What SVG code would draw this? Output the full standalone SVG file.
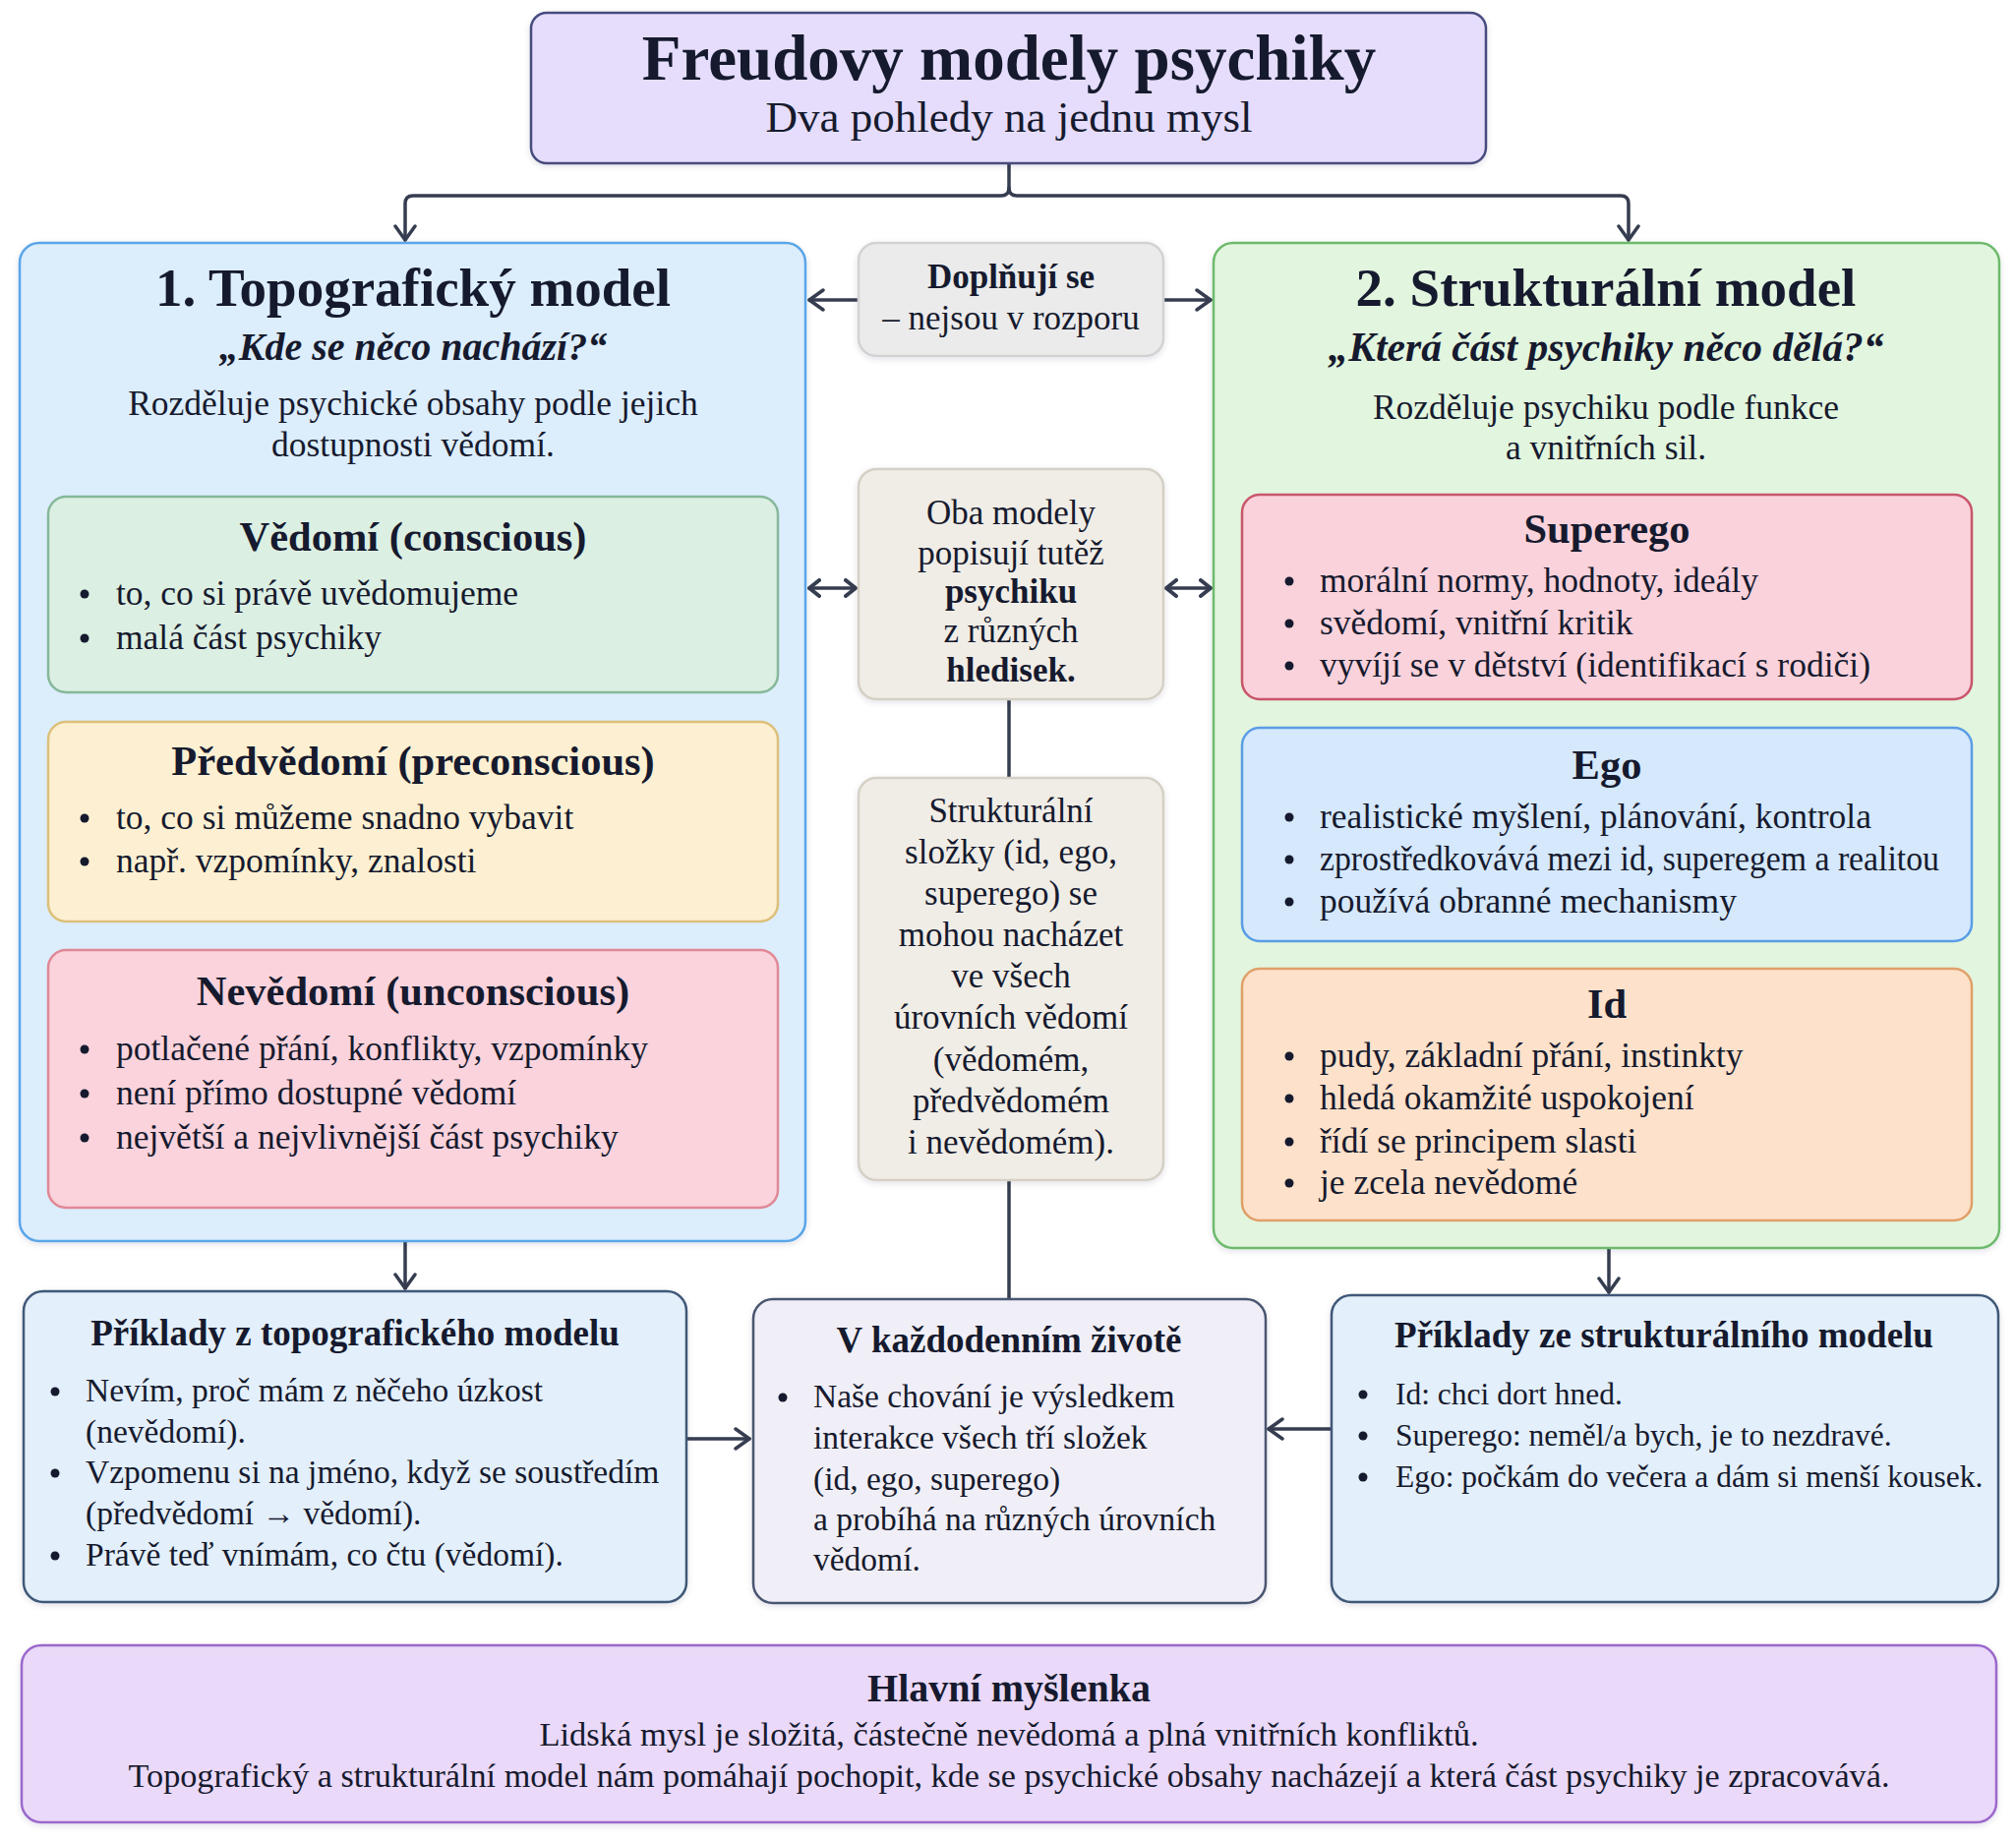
<svg xmlns="http://www.w3.org/2000/svg" width="2050" height="1873" viewBox="0 0 2050 1873">
<style>
text{font-family:"Liberation Serif","DejaVu Serif",serif;fill:#161a2e}
.c{text-anchor:middle}
.b{font-weight:bold}
.bi{font-weight:bold;font-style:italic}
.t1{font-size:65px}
.t2{font-size:45px}
.pt{font-size:55px}
.q{font-size:40px}
.q2{font-size:41.5px}
.d{font-size:35.5px}
.h{font-size:42.5px}
.li{font-size:35.5px}
.cc{font-size:35px}
.bt{font-size:37px}
.bl{font-size:33.5px}
.br{font-size:31.5px}
.box{stroke-width:2.5}
.con{fill:none;stroke:#363d50;stroke-width:3.5;stroke-linecap:round;stroke-linejoin:round}
.dot{fill:#161a2e}
</style>
<defs>
<filter id="sh" x="-5%" y="-5%" width="110%" height="115%">
<feDropShadow dx="0" dy="2" stdDeviation="3" flood-color="#1a2040" flood-opacity="0.12"/>
</filter>
<marker id="ah" markerUnits="userSpaceOnUse" markerWidth="18" markerHeight="24" viewBox="0 0 18 24" refX="16" refY="12" orient="auto-start-reverse">
<path d="M2,2 L16,12 L2,22" fill="none" stroke="#363d50" stroke-width="3.5" stroke-linecap="round" stroke-linejoin="round"/>
</marker>
<marker id="as" markerUnits="userSpaceOnUse" markerWidth="14" markerHeight="20" viewBox="0 0 14 20" refX="12" refY="10" orient="auto-start-reverse">
<path d="M2,2 L12,10 L2,18" fill="none" stroke="#363d50" stroke-width="4" stroke-linecap="round" stroke-linejoin="round"/>
</marker>
</defs>
<rect width="2050" height="1873" fill="#ffffff"/>

<g id="connectors">
<path class="con" d="M1026,166 V191 Q1026,199 1018,199 H420 Q412,199 412,207 V244" marker-end="url(#ah)"/>
<path class="con" d="M1026,191 Q1026,199 1034,199 H1648 Q1656,199 1656,207 V244" marker-end="url(#ah)"/>
<path class="con" d="M873,305 H823" marker-end="url(#ah)"/>
<path class="con" d="M1183,305 H1231" marker-end="url(#ah)"/>
<path class="con" d="M823,598 H870" marker-start="url(#as)" marker-end="url(#as)"/>
<path class="con" d="M1186,598 H1231" marker-start="url(#as)" marker-end="url(#as)"/>
<path class="con" d="M1026,711 V791"/>
<path class="con" d="M1026,1200 V1321"/>
<path class="con" d="M412,1263 V1310" marker-end="url(#ah)"/>
<path class="con" d="M1636,1241 V1314" marker-end="url(#ah)"/>
<path class="con" d="M698,1463 H762" marker-end="url(#ah)"/>
<path class="con" d="M1354,1453 H1290" marker-end="url(#ah)"/>
</g>

<g id="title">
<rect class="box" x="540" y="13" width="971" height="153" rx="16" fill="#e5ddfb" stroke="#464c7e" filter="url(#sh)"/>
<text class="c b t1" x="1026" y="81">Freudovy modely psychiky</text>
<text class="c t2" x="1026" y="134">Dva pohledy na jednu mysl</text>
</g>

<g id="topographic">
<rect class="box" x="20" y="247" width="799" height="1015" rx="20" fill="#dcedfc" stroke="#5aa5e8" filter="url(#sh)"/>
<text class="c b pt" x="420" y="311">1. Topografický model</text>
<text class="c bi q" x="420" y="366">„Kde se něco nachází?“</text>
<text class="c d" x="420" y="422">Rozděluje psychické obsahy podle jejich</text>
<text class="c d" x="420" y="464">dostupnosti vědomí.</text>
</g>

<g id="vedomi">
<rect class="box" x="49" y="505" width="742" height="199" rx="18" fill="#dcefe3" stroke="#86b89a"/>
<text class="c b h" x="420" y="560">Vědomí (conscious)</text>
<circle class="dot" cx="86" cy="604" r="4.5"/>
<text class="li" x="118" y="615">to, co si právě uvědomujeme</text>
<circle class="dot" cx="86" cy="649" r="4.5"/>
<text class="li" x="118" y="660">malá část psychiky</text>
</g>

<g id="predvedomi">
<rect class="box" x="49" y="734" width="742" height="203" rx="18" fill="#fdf0d2" stroke="#dcc07a"/>
<text class="c b h" x="420" y="788">Předvědomí (preconscious)</text>
<circle class="dot" cx="86" cy="832" r="4.5"/>
<text class="li" x="118" y="843">to, co si můžeme snadno vybavit</text>
<circle class="dot" cx="86" cy="876" r="4.5"/>
<text class="li" x="118" y="887">např. vzpomínky, znalosti</text>
</g>

<g id="nevedomi">
<rect class="box" x="49" y="966" width="742" height="262" rx="18" fill="#fad3dc" stroke="#e08896"/>
<text class="c b h" x="420" y="1022">Nevědomí (unconscious)</text>
<circle class="dot" cx="86" cy="1067" r="4.5"/>
<text class="li" x="118" y="1078" font-size="37.5">potlačené přání, konflikty, vzpomínky</text>
<circle class="dot" cx="86" cy="1112" r="4.5"/>
<text class="li" x="118" y="1123" font-size="37.5">není přímo dostupné vědomí</text>
<circle class="dot" cx="86" cy="1157" r="4.5"/>
<text class="li" x="118" y="1168" font-size="37.5">největší a nejvlivnější část psychiky</text>
</g>

<g id="structural">
<rect class="box" x="1234" y="247" width="799" height="1022" rx="20" fill="#e2f5de" stroke="#6dba6c" filter="url(#sh)"/>
<text class="c b pt" x="1633" y="311">2. Strukturální model</text>
<text class="c bi q2" x="1633" y="367">„Která část psychiky něco dělá?“</text>
<text class="c d" x="1633" y="426">Rozděluje psychiku podle funkce</text>
<text class="c d" x="1633" y="467">a vnitřních sil.</text>
</g>

<g id="superego">
<rect class="box" x="1263" y="503" width="742" height="208" rx="18" fill="#fad2db" stroke="#c9566b"/>
<text class="c b h" x="1634" y="552">Superego</text>
<circle class="dot" cx="1311" cy="591" r="4.5"/>
<text class="li" x="1342" y="602">morální normy, hodnoty, ideály</text>
<circle class="dot" cx="1311" cy="634" r="4.5"/>
<text class="li" x="1342" y="645">svědomí, vnitřní kritik</text>
<circle class="dot" cx="1311" cy="677" r="4.5"/>
<text class="li" x="1342" y="688">vyvíjí se v dětství (identifikací s rodiči)</text>
</g>

<g id="ego">
<rect class="box" x="1263" y="740" width="742" height="217" rx="18" fill="#d5e8fc" stroke="#5a9de6"/>
<text class="c b h" x="1634" y="792">Ego</text>
<circle class="dot" cx="1311" cy="831" r="4.5"/>
<text class="li" x="1342" y="842">realistické myšlení, plánování, kontrola</text>
<circle class="dot" cx="1311" cy="874" r="4.5"/>
<text class="li" x="1342" y="885" textLength="630" lengthAdjust="spacingAndGlyphs">zprostředkovává mezi id, superegem a realitou</text>
<circle class="dot" cx="1311" cy="917" r="4.5"/>
<text class="li" x="1342" y="928">používá obranné mechanismy</text>
</g>

<g id="id">
<rect class="box" x="1263" y="985" width="742" height="256" rx="18" fill="#fde1ca" stroke="#e0a06a"/>
<text class="c b h" x="1634" y="1035">Id</text>
<circle class="dot" cx="1311" cy="1074" r="4.5"/>
<text class="li" x="1342" y="1085">pudy, základní přání, instinkty</text>
<circle class="dot" cx="1311" cy="1117" r="4.5"/>
<text class="li" x="1342" y="1128">hledá okamžité uspokojení</text>
<circle class="dot" cx="1311" cy="1161" r="4.5"/>
<text class="li" x="1342" y="1172">řídí se principem slasti</text>
<circle class="dot" cx="1311" cy="1203" r="4.5"/>
<text class="li" x="1342" y="1214">je zcela nevědomé</text>
</g>

<g id="doplnuji">
<rect class="box" x="873" y="247" width="310" height="115" rx="18" fill="#ebebeb" stroke="#d2d2d2" filter="url(#sh)"/>
<text class="c b cc" x="1028" y="293">Doplňují se</text>
<text class="c cc" x="1028" y="335">– nejsou v rozporu</text>
</g>

<g id="oba">
<rect class="box" x="873" y="477" width="310" height="234" rx="18" fill="#f0ede6" stroke="#d5d0c5" filter="url(#sh)"/>
<text class="c cc" x="1028" y="533">Oba modely</text>
<text class="c cc" x="1028" y="574">popisují tutěž</text>
<text class="c b cc" x="1028" y="613">psychiku</text>
<text class="c cc" x="1028" y="653">z různých</text>
<text class="c b cc" x="1028" y="693">hledisek.</text>
</g>

<g id="slozky">
<rect class="box" x="873" y="791" width="310" height="409" rx="18" fill="#f0ede6" stroke="#d5d0c5" filter="url(#sh)"/>
<text class="c cc" x="1028" y="836">Strukturální</text>
<text class="c cc" x="1028" y="878">složky (id, ego,</text>
<text class="c cc" x="1028" y="920">superego) se</text>
<text class="c cc" x="1028" y="962">mohou nacházet</text>
<text class="c cc" x="1028" y="1004">ve všech</text>
<text class="c cc" x="1028" y="1046">úrovních vědomí</text>
<text class="c cc" x="1028" y="1089">(vědomém,</text>
<text class="c cc" x="1028" y="1131">předvědomém</text>
<text class="c cc" x="1028" y="1173">i nevědomém).</text>
</g>

<g id="priklady-topo">
<rect class="box" x="24" y="1313" width="674" height="316" rx="20" fill="#e3effa" stroke="#3f5878" filter="url(#sh)"/>
<text class="c b bt" x="361" y="1368">Příklady z topografického modelu</text>
<circle class="dot" cx="56" cy="1415" r="4.5"/>
<text class="bl" x="87" y="1425">Nevím, proč mám z něčeho úzkost</text>
<text class="bl" x="87" y="1467">(nevědomí).</text>
<circle class="dot" cx="56" cy="1498" r="4.5"/>
<text class="bl" x="87" y="1508">Vzpomenu si na jméno, když se soustředím</text>
<text class="bl" x="87" y="1550">(předvědomí → vědomí).</text>
<circle class="dot" cx="56" cy="1582" r="4.5"/>
<text class="bl" x="87" y="1592">Právě teď vnímám, co čtu (vědomí).</text>
</g>

<g id="kazdodenni">
<rect class="box" x="766" y="1321" width="521" height="309" rx="20" fill="#f0eff7" stroke="#4a5670" filter="url(#sh)"/>
<text class="c b bt" x="1026" y="1375">V každodenním životě</text>
<circle class="dot" cx="796" cy="1421" r="4.5"/>
<text class="bl" x="827" y="1431">Naše chování je výsledkem</text>
<text class="bl" x="827" y="1473">interakce všech tří složek</text>
<text class="bl" x="827" y="1515">(id, ego, superego)</text>
<text class="bl" x="827" y="1556">a probíhá na různých úrovních</text>
<text class="bl" x="827" y="1597">vědomí.</text>
</g>

<g id="priklady-struct">
<rect class="box" x="1354" y="1317" width="678" height="312" rx="20" fill="#e3effa" stroke="#3f5878" filter="url(#sh)"/>
<text class="c b bt" x="1692" y="1370">Příklady ze strukturálního modelu</text>
<circle class="dot" cx="1386" cy="1418" r="4.5"/>
<text class="br" x="1419" y="1428">Id: chci dort hned.</text>
<circle class="dot" cx="1386" cy="1460" r="4.5"/>
<text class="br" x="1419" y="1470">Superego: neměl/a bych, je to nezdravé.</text>
<circle class="dot" cx="1386" cy="1502" r="4.5"/>
<text class="br" x="1419" y="1512">Ego: počkám do večera a dám si menší kousek.</text>
</g>

<g id="hlavni">
<rect class="box" x="22" y="1673" width="2008" height="180" rx="20" fill="#ead9f8" stroke="#9b68cc" filter="url(#sh)"/>
<text class="c b" x="1026" y="1730" font-size="40">Hlavní myšlenka</text>
<text class="c" x="1026" y="1775" font-size="34.5">Lidská mysl je složitá, částečně nevědomá a plná vnitřních konfliktů.</text>
<text class="c" x="1026" y="1817" font-size="34.2">Topografický a strukturální model nám pomáhají pochopit, kde se psychické obsahy nacházejí a která část psychiky je zpracovává.</text>
</g>
</svg>
